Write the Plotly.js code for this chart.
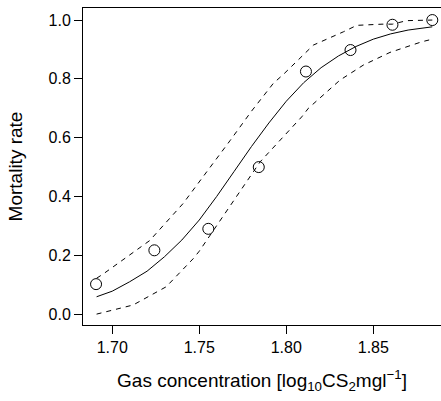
<!DOCTYPE html>
<html>
<head>
<meta charset="utf-8">
<script src="https://cdn.plot.ly/plotly-3.0.1.min.js"></script>
<style>html,body{margin:0;padding:0;background:#fff;}#chart{width:441px;height:401px;}</style>
</head>
<body>
<div id="chart"></div>
<script>
// Observed data (dose in log10 CS2 mg/l, observed mortality rate)
const dose = [1.6907, 1.7242, 1.7552, 1.7842, 1.8113, 1.8369, 1.8610, 1.8839];
const mortality = [0.102, 0.217, 0.290, 0.500, 0.825, 0.898, 0.984, 1.000];

// Fitted curve
const fitX = [1.691, 1.70, 1.71, 1.72, 1.73, 1.74, 1.75, 1.76, 1.77, 1.78, 1.79, 1.80, 1.81, 1.82, 1.83, 1.84, 1.85, 1.86, 1.87, 1.8839];
const fitY = [0.059, 0.078, 0.110, 0.146, 0.195, 0.252, 0.320, 0.400, 0.485, 0.570, 0.650, 0.724, 0.787, 0.838, 0.878, 0.910, 0.935, 0.953, 0.966, 0.977];

// Upper band
const upperX = [1.691, 1.6947, 1.7215, 1.7407, 1.7543, 1.7638, 1.7677, 1.7800, 1.7926, 1.7983, 1.8156, 1.8328, 1.8405, 1.8550, 1.8610, 1.8692, 1.8839];
const upperY = [0.122, 0.136, 0.250, 0.376, 0.484, 0.558, 0.590, 0.690, 0.785, 0.815, 0.915, 0.960, 0.982, 0.986, 0.986, 0.998, 1.000];

// Lower band
const lowerX = [1.691, 1.712, 1.731, 1.7466, 1.750, 1.785, 1.8089, 1.8127, 1.8309, 1.8443, 1.8596, 1.8778, 1.8839];
const lowerY = [0.000, 0.031, 0.093, 0.189, 0.214, 0.518, 0.671, 0.700, 0.796, 0.847, 0.890, 0.926, 0.935];

// Tick labels
const xTicks = [1.70, 1.75, 1.80, 1.85];
const xTickText = ["1.70", "1.75", "1.80", "1.85"];
const yTicks = [0, 0.2, 0.4, 0.6, 0.8, 1.0];
const yTickText = ["0.0", "0.2", "0.4", "0.6", "0.8", "1.0"];

const font = "Liberation Sans, Arial, Helvetica, sans-serif";

const traces = [
  {x: upperX, y: upperY, mode: "lines", line: {color: "#000", width: 1, dash: "5px,5px"}, hoverinfo: "skip"},
  {x: lowerX, y: lowerY, mode: "lines", line: {color: "#000", width: 1, dash: "5px,5px"}, hoverinfo: "skip"},
  {x: fitX, y: fitY, mode: "lines", line: {color: "#000", width: 1}, hoverinfo: "skip"},
  {x: dose, y: mortality, mode: "markers", marker: {symbol: "circle-open", size: 11, color: "#000", line: {width: 1, color: "#000"}}}
];

const layout = {
  width: 441, height: 401,
  margin: {l: 83, r: 0, t: 8, b: 76},
  showlegend: false,
  paper_bgcolor: "#fff", plot_bgcolor: "#fff",
  font: {family: font, size: 16, color: "#000"},
  xaxis: {
    range: [1.6832, 1.8889],
    tickvals: xTicks, ticktext: xTickText,
    ticks: "outside", ticklen: 8, tickwidth: 1, tickcolor: "#000",
    showline: true, linecolor: "#000", linewidth: 1, mirror: true,
    showgrid: false, zeroline: false,
    tickfont: {size: 16, family: font},
    title: {text: "Gas concentration [log<sub>10</sub>CS<sub>2</sub>mgl<sup>\u22121</sup>]", font: {size: 19, family: font}, standoff: 18}
  },
  yaxis: {
    range: [-0.037, 1.041],
    tickvals: yTicks, ticktext: yTickText,
    ticks: "outside", ticklen: 8, tickwidth: 1, tickcolor: "#000",
    showline: true, linecolor: "#000", linewidth: 1,
    showgrid: false, zeroline: false,
    tickfont: {size: 16, family: font},
    title: {text: "Mortality rate", font: {size: 19, family: font}, standoff: 20}
  }
};

Plotly.newPlot("chart", traces, layout, {staticPlot: true, displayModeBar: false});
</script>
</body>
</html>
